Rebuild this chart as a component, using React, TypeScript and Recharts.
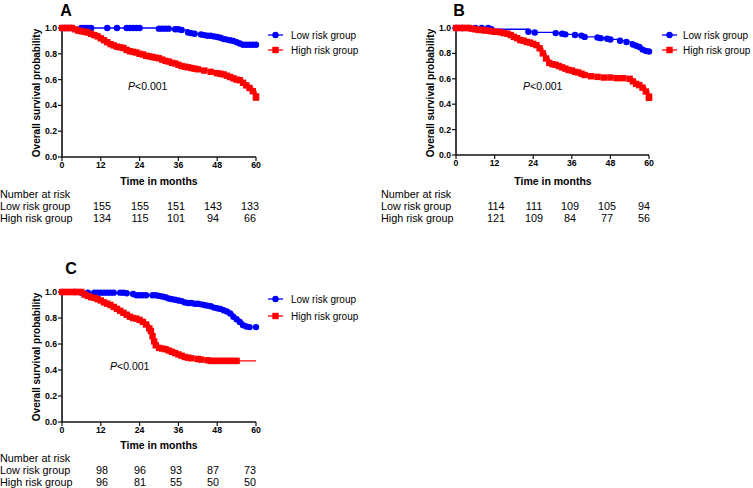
import { Line, LineChart, XAxis, YAxis } from "recharts";

const FONT = '"Liberation Sans", Arial, sans-serif';
const BLUE = "#0000ff";
const RED = "#ff0000";

type Pt = [number, number];

const xTicks = [0, 12, 24, 36, 48, 60];
const yTicks = [0, 0.2, 0.4, 0.6, 0.8, 1.0];
const riskTimes = [12, 24, 36, 48, 60];

// Panel A: [month, survival]
const aLow: Pt[] = [
  [0, 1], [1, 1], [2, 1], [3, 1], [6, 1], [7, 1], [8, 1], [9, 1], [14, 1], [17, 1], [20, 1], [21, 1],
  [22, 1], [23, 1], [24, 1], [30, 0.995], [31, 0.995], [32, 0.995], [33, 0.995], [35, 0.99], [36, 0.99],
  [37, 0.985], [39, 0.965], [40, 0.96], [41, 0.955], [43, 0.95], [44, 0.945], [45, 0.94], [46, 0.94],
  [47, 0.935], [48, 0.93], [49, 0.925], [50, 0.915], [51, 0.91], [52, 0.905], [53, 0.9], [54, 0.89],
  [55, 0.88], [56, 0.87], [57, 0.87], [58, 0.87], [59, 0.87], [60, 0.87],
];
const aHigh: Pt[] = [
  [0, 1], [1, 1], [2, 1], [3, 1], [4, 0.99], [5, 0.98], [6, 0.975], [7, 0.97], [8, 0.965], [9, 0.955],
  [10, 0.945], [11, 0.935], [12, 0.92], [13, 0.905], [14, 0.89], [15, 0.875], [16, 0.865], [17, 0.855],
  [18, 0.85], [19, 0.845], [20, 0.83], [21, 0.82], [22, 0.815], [23, 0.81], [24, 0.8], [25, 0.795],
  [26, 0.785], [27, 0.78], [28, 0.775], [29, 0.77], [30, 0.765], [31, 0.755], [32, 0.745], [33, 0.74],
  [34, 0.73], [35, 0.725], [36, 0.715], [37, 0.705], [38, 0.7], [39, 0.695], [40, 0.69], [41, 0.685],
  [42, 0.68], [44, 0.67], [46, 0.66], [48, 0.65], [49, 0.645], [50, 0.64], [51, 0.63], [52, 0.62],
  [53, 0.61], [54, 0.6], [55, 0.595], [56, 0.575], [57, 0.555], [58, 0.535], [59, 0.51], [60, 0.47], [60, 0.46],
];
const aLowRisk = [155, 155, 151, 143, 133];
const aHighRisk = [134, 115, 101, 94, 66];

// Panel B
const bLow: Pt[] = [
  [0, 1], [2, 1], [4, 1], [6, 1], [8, 1], [10, 1], [11, 0.99], [22.5, 0.97], [24.5, 0.965], [31, 0.96],
  [33, 0.955], [34, 0.95], [37, 0.945], [39, 0.94], [40, 0.93], [44, 0.925], [45, 0.92], [47, 0.915],
  [48, 0.91], [51, 0.9], [53, 0.89], [55, 0.87], [56, 0.86], [57, 0.85], [58, 0.83], [59, 0.82], [60, 0.815],
];
const bHigh: Pt[] = [
  [0, 1], [1, 1], [2, 1], [3, 1], [4, 1], [5, 0.995], [6, 0.99], [7, 0.985], [8, 0.985], [9, 0.98],
  [10, 0.98], [11, 0.975], [12, 0.97], [13, 0.97], [14, 0.965], [15, 0.96], [16, 0.955], [17, 0.945],
  [18, 0.93], [19, 0.92], [20, 0.905], [21, 0.9], [22, 0.89], [23, 0.885], [24, 0.875], [25, 0.865],
  [26, 0.84], [27, 0.8], [28, 0.76], [29, 0.725], [30, 0.715], [31, 0.71], [32, 0.7], [33, 0.69],
  [34, 0.68], [35, 0.67], [36, 0.665], [37, 0.655], [38, 0.65], [39, 0.64], [40, 0.63], [42, 0.62],
  [44, 0.615], [46, 0.61], [48, 0.61], [50, 0.605], [52, 0.605], [54, 0.6], [55, 0.58], [56, 0.56],
  [57, 0.55], [58, 0.53], [59, 0.5], [60, 0.46], [60, 0.45],
];
const bLowRisk = [114, 111, 109, 105, 94];
const bHighRisk = [121, 109, 84, 77, 56];

// Panel C
const cLow: Pt[] = [
  [0, 1], [4, 1], [6, 0.995], [8, 0.995], [10, 0.995], [11, 0.995], [12, 0.995], [13, 0.995], [14, 0.995],
  [15, 0.995], [16, 0.995], [18, 0.995], [19, 0.995], [20, 0.99], [22, 0.985], [23, 0.975], [24, 0.975],
  [25, 0.975], [26, 0.975], [28, 0.975], [29, 0.975], [30, 0.97], [31, 0.965], [32, 0.96], [33, 0.95],
  [34, 0.945], [35, 0.94], [36, 0.935], [37, 0.93], [38, 0.92], [39, 0.915], [40, 0.915], [41, 0.91],
  [42, 0.91], [43, 0.905], [44, 0.9], [45, 0.895], [46, 0.89], [47, 0.88], [48, 0.875], [49, 0.87],
  [50, 0.86], [51, 0.85], [52, 0.835], [53, 0.81], [54, 0.79], [55, 0.77], [56, 0.745], [57, 0.735],
  [58, 0.73], [60, 0.73],
];
const cHigh: Pt[] = [
  [0, 1], [1, 1], [2, 1], [3, 1], [4, 1], [5, 1], [6, 1], [7, 0.98], [8, 0.97], [9, 0.96], [10, 0.955],
  [11, 0.945], [12, 0.935], [13, 0.92], [14, 0.91], [15, 0.9], [16, 0.885], [17, 0.87], [18, 0.855],
  [19, 0.84], [20, 0.825], [21, 0.81], [22, 0.8], [23, 0.795], [24, 0.785], [25, 0.77], [26, 0.75],
  [27, 0.72], [27.5, 0.7], [28, 0.66], [28.5, 0.62], [29, 0.59], [30, 0.57], [31, 0.565], [32, 0.56],
  [33, 0.55], [34, 0.54], [35, 0.53], [36, 0.52], [37, 0.51], [38, 0.5], [39, 0.495], [40, 0.49],
  [42, 0.485], [43, 0.48], [45, 0.475], [46, 0.47], [47, 0.47], [48, 0.47], [49, 0.47], [50, 0.47],
  [51, 0.47], [52, 0.47], [53, 0.47], [54, 0.47], [60, 0.47],
];
const cLowRisk = [98, 96, 93, 87, 73];
const cHighRisk = [96, 81, 55, 50, 50];

const toRows = (pts: Pt[]) => pts.map(([t, s]) => ({ t, s }));

const makeCircle = (n: number, skipLast = false) => (props: any) => {
  const { cx, cy, index } = props;
  if (cx == null || (skipLast && index === n - 1)) return <g key={`c${index}`} />;
  return <circle key={`c${index}`} cx={cx} cy={cy} r={3.2} fill={BLUE} />;
};
const makeSquare = (n: number, skipLast = false) => (props: any) => {
  const { cx, cy, index } = props;
  if (cx == null || (skipLast && index === n - 1)) return <g key={`s${index}`} />;
  return <rect key={`s${index}`} x={cx - 3.2} y={cy - 3.2} width={6.4} height={6.4} fill={RED} />;
};

const tickStyle = { fontSize: 8.7, fontWeight: "bold", fill: "#000", fontFamily: FONT };

interface PanelProps {
  ox: number; // plot left in page px
  oy: number; // plot top in page px
  w: number;
  h: number;
  low: Pt[];
  high: Pt[];
  highSkipLast?: boolean;
}

function Panel({ ox, oy, w, h, low, high, highSkipLast }: PanelProps) {
  return (
    <div style={{ position: "absolute", left: ox - 62, top: oy - 28 }}>
      <LineChart width={62 + w + 12} height={28 + h + 30} margin={{ top: 28, right: 12, bottom: 0, left: 0 }}>
        <XAxis
          type="number"
          dataKey="t"
          domain={[0, 60]}
          ticks={xTicks}
          height={30}
          tickSize={4}
          tickMargin={1}
          tick={tickStyle}
          axisLine={{ stroke: "#111", strokeWidth: 1.6 }}
          tickLine={{ stroke: "#111", strokeWidth: 1.2 }}
          allowDuplicatedCategory={false}
        />
        <YAxis
          type="number"
          dataKey="s"
          domain={[0, 1]}
          ticks={yTicks}
          width={62}
          tickSize={4}
          tickMargin={1}
          tick={tickStyle}
          tickFormatter={(v: number) => v.toFixed(1)}
          axisLine={{ stroke: "#111", strokeWidth: 1.6 }}
          tickLine={{ stroke: "#111", strokeWidth: 1.2 }}
        />
        <Line
          data={toRows(low)}
          dataKey="s"
          type="stepAfter"
          stroke={BLUE}
          strokeWidth={1.3}
          dot={makeCircle(low.length)}
          activeDot={false}
          isAnimationActive={false}
        />
        <Line
          data={toRows(high)}
          dataKey="s"
          type="stepAfter"
          stroke={RED}
          strokeWidth={1.3}
          dot={makeSquare(high.length, highSkipLast)}
          activeDot={false}
          isAnimationActive={false}
        />
      </LineChart>
    </div>
  );
}

const riskCols = [40, 78, 114, 151, 188];

function Labels({ ox, oy, letter, letterX, letterY, pY, pX, legendY2, legendTextX, tableX, lowRisk, highRisk }: any) {
  return (
    <g fontFamily={FONT} fill="#000">
      <text x={letterX} y={letterY} fontSize={16} fontWeight="bold" textAnchor="middle">{letter}</text>
      <text
        transform={`translate(${ox - 26}, ${oy + 65}) rotate(-90)`}
        fontSize={10}
        fontWeight="bold"
        textAnchor="middle"
        dominantBaseline="central"
      >
        Overall survival probability
      </text>
      <text x={ox + 97} y={oy + 153} fontSize={10.5} fontWeight="bold" textAnchor="middle" dominantBaseline="central">
        Time in months
      </text>
      <text x={ox + pX} y={oy + pY} fontSize={10.5}>
        <tspan fontStyle="italic">P</tspan>&lt;0.001
      </text>
      {/* legend */}
      <line x1={ox + 206} x2={ox + 221} y1={oy + 7} y2={oy + 7} stroke={BLUE} strokeWidth={1.3} />
      <circle cx={ox + 213.5} cy={oy + 7} r={3.2} fill={BLUE} />
      <text x={ox + legendTextX} y={oy + 7} fontSize={10} dominantBaseline="central">Low risk group</text>
      <line x1={ox + 206} x2={ox + 221} y1={oy + legendY2} y2={oy + legendY2} stroke={RED} strokeWidth={1.3} />
      <rect x={ox + 210.3} y={oy + legendY2 - 3.2} width={6.4} height={6.4} fill={RED} />
      <text x={ox + legendTextX} y={oy + legendY2} fontSize={10} dominantBaseline="central">High risk group</text>
      {/* number at risk */}
      <text x={tableX} y={oy + 166} fontSize={10.8} dominantBaseline="central">Number at risk</text>
      <text x={tableX} y={oy + 178} fontSize={10.8} dominantBaseline="central">Low risk group</text>
      <text x={tableX} y={oy + 190} fontSize={10.8} dominantBaseline="central">High risk group</text>
      {riskTimes.map((t, i) => (
        <text key={`l${t}`} x={ox + riskCols[i]} y={oy + 178} fontSize={10.8} textAnchor="middle" dominantBaseline="central">
          {lowRisk[i]}
        </text>
      ))}
      {riskTimes.map((t, i) => (
        <text key={`h${t}`} x={ox + riskCols[i]} y={oy + 190} fontSize={10.8} textAnchor="middle" dominantBaseline="central">
          {highRisk[i]}
        </text>
      ))}
    </g>
  );
}

export default function App() {
  return (
    <div style={{ position: "absolute", left: 0, top: 0, width: 753, height: 488, background: "#fff", overflow: "hidden" }}>
      <Panel ox={62} oy={28} w={194} h={129} low={aLow} high={aHigh} />
      <Panel ox={456} oy={28} w={193} h={127} low={bLow} high={bHigh} />
      <Panel ox={62} oy={292} w={194} h={130} low={cLow} high={cHigh} highSkipLast />
      <svg width={753} height={488} style={{ position: "absolute", left: 0, top: 0, pointerEvents: "none" }}>
        <Labels ox={62} oy={28} letter="A" letterX={66} letterY={16} pX={66} pY={62} legendY2={22} legendTextX={229}
          tableX={0} lowRisk={aLowRisk} highRisk={aHighRisk} />
        <Labels ox={456} oy={28} letter="B" letterX={459} letterY={16} pX={67} pY={62} legendY2={22} legendTextX={227}
          tableX={381} lowRisk={bLowRisk} highRisk={bHighRisk} />
        <Labels ox={62} oy={292} letter="C" letterX={71} letterY={274} pX={48} pY={78} legendY2={24} legendTextX={229}
          tableX={0} lowRisk={cLowRisk} highRisk={cHighRisk} />
      </svg>
    </div>
  );
}
